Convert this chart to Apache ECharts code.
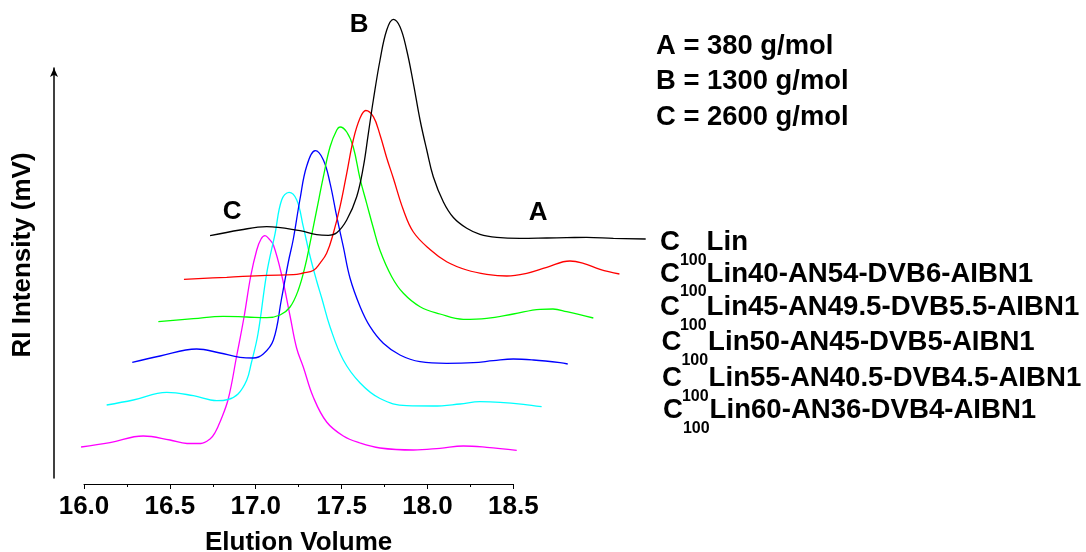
<!DOCTYPE html>
<html>
<head>
<meta charset="utf-8">
<script src="https://cdn.jsdelivr.net/npm/echarts@6/dist/echarts.min.js"></script>
<style>
  html, body { margin: 0; padding: 0; background: #fff; }
  #chart { width: 1086px; height: 552px; }
</style>
</head>
<body>
<div id="chart"></div>
<script>
// GPC traces (RI detector), drawn as an offset waterfall: each trace is
// listed at the elution volume / intensity where it is plotted.
const sampleNames = [
  'C100Lin',
  'C100Lin40-AN54-DVB6-AIBN1',
  'C100Lin45-AN49.5-DVB5.5-AIBN1',
  'C100Lin50-AN45-DVB5-AIBN1',
  'C100Lin55-AN40.5-DVB4.5-AIBN1',
  'C100Lin60-AN36-DVB4-AIBN1'
];
const molarMassNotes = ['A = 380 g/mol', 'B = 1300 g/mol', 'C = 2600 g/mol'];
const peakLetters = ['A', 'B', 'C'];

const volLin = [16.734, 16.909, 17.064, 17.258, 17.355, 17.423, 17.472, 17.530, 17.588, 17.627, 17.656, 17.685, 17.724, 17.763, 17.801, 17.840, 17.879, 17.918, 17.957, 17.996, 18.034, 18.093, 18.151, 18.229, 18.306, 18.404, 18.539, 18.695, 18.811, 18.927, 19.083, 19.271];
const riLin  = [248.3, 254.0, 257.3, 253.3, 249.3, 248.7, 251.3, 264.0, 287.3, 317.3, 350.7, 384.0, 424.0, 454.0, 464.7, 457.3, 434.0, 400.7, 364.0, 334.0, 307.3, 282.0, 266.5, 255.7, 249.7, 246.7, 245.7, 246.0, 246.3, 246.7, 245.7, 245.0];

const volLin40 = [16.582, 16.831, 17.064, 17.219, 17.277, 17.335, 17.374, 17.413, 17.452, 17.491, 17.530, 17.568, 17.607, 17.641, 17.685, 17.724, 17.763, 17.801, 17.860, 17.918, 18.015, 18.112, 18.229, 18.345, 18.462, 18.578, 18.695, 18.830, 18.908, 19.005, 19.118];
const riLin40  = [204.7, 206.7, 208.7, 209.3, 211.0, 213.5, 220.7, 230.7, 250.7, 277.3, 310.7, 344.0, 365.7, 373.5, 367.3, 349.0, 326.0, 306.0, 274.0, 252.0, 234.5, 222.3, 214.0, 209.7, 208.0, 210.7, 216.7, 223.0, 220.7, 214.7, 210.0];

const volLin45 = [16.433, 16.637, 16.811, 16.948, 17.064, 17.142, 17.200, 17.248, 17.287, 17.316, 17.355, 17.394, 17.433, 17.472, 17.491, 17.530, 17.568, 17.607, 17.646, 17.685, 17.724, 17.792, 17.860, 17.957, 18.073, 18.209, 18.345, 18.500, 18.656, 18.731, 18.811, 18.966];
const riLin45  = [162.3, 165.3, 167.7, 167.0, 166.3, 169.0, 177.0, 194.0, 217.3, 240.7, 274.0, 307.3, 337.3, 354.0, 357.0, 352.0, 337.0, 305.7, 280.7, 256.0, 233.5, 207.3, 190.7, 177.3, 170.0, 164.7, 165.7, 170.0, 174.7, 175.0, 172.3, 166.0];

const volLin50 = [16.281, 16.443, 16.656, 16.792, 16.909, 16.986, 17.044, 17.103, 17.150, 17.190, 17.219, 17.258, 17.297, 17.347, 17.394, 17.433, 17.472, 17.510, 17.549, 17.608, 17.666, 17.743, 17.840, 17.957, 18.112, 18.267, 18.384, 18.500, 18.617, 18.772, 18.817];
const riLin50  = [121.7, 128.0, 135.0, 131.0, 126.7, 126.0, 130.0, 144.0, 185.0, 222.0, 245.0, 285.0, 318.0, 333.3, 324.0, 300.7, 267.3, 237.3, 206.0, 177.3, 157.3, 140.7, 129.0, 122.3, 120.7, 121.3, 123.3, 125.0, 124.0, 121.3, 120.0];

const volLin55 = [16.132, 16.287, 16.482, 16.637, 16.773, 16.839, 16.897, 16.948, 16.973, 17.013, 17.064, 17.113, 17.151, 17.194, 17.239, 17.277, 17.316, 17.355, 17.386, 17.433, 17.510, 17.608, 17.724, 17.879, 18.034, 18.190, 18.306, 18.423, 18.559, 18.665];
const riLin55  = [79.0, 84.0, 91.7, 88.3, 83.3, 84.5, 90.0, 104.0, 120.0, 150.0, 210.7, 250.7, 284.0, 291.7, 284.0, 257.3, 228.0, 203.0, 185.0, 157.0, 124.0, 101.0, 85.5, 78.3, 78.0, 80.0, 82.3, 81.7, 79.7, 77.3];

const volLin60 = [15.983, 16.151, 16.345, 16.501, 16.600, 16.680, 16.734, 16.765, 16.792, 16.840, 16.889, 16.932, 16.971, 17.006, 17.031, 17.054, 17.078, 17.103, 17.151, 17.200, 17.238, 17.277, 17.335, 17.413, 17.510, 17.607, 17.724, 17.918, 18.073, 18.209, 18.345, 18.520];
const riLin60  = [37.0, 41.3, 48.0, 44.0, 40.5, 40.5, 45.0, 52.0, 62.0, 85.0, 128.0, 167.0, 208.0, 234.0, 245.0, 248.3, 245.0, 239.0, 209.0, 168.0, 136.0, 117.0, 87.0, 62.0, 48.0, 41.0, 36.0, 34.0, 35.7, 38.0, 36.7, 33.7];

const volumes = [volLin, volLin40, volLin45, volLin50, volLin55, volLin60];
const intensities = [riLin, riLin40, riLin45, riLin50, riLin55, riLin60];

// ---- presentation ----
const FONT = "'Liberation Sans', Arial, sans-serif";
const traceColors = ['#000000', '#ff0000', '#00ff00', '#0000ff', '#00ffff', '#ff00ff'];
const boldText = { fontFamily: FONT, fontWeight: 'bold', color: '#000' };

// Shared scale: the visible axis spans 16.0–18.5, while the traces run
// past both ends, so they live on a wider grid with the same px/mL.
const AXIS_MIN = 16, AXIS_MAX = 18.5, AXIS_LEFT = 84, AXIS_WIDTH = 429.3;
const PX_PER_ML = AXIS_WIDTH / (AXIS_MAX - AXIS_MIN);
const TRACE_MIN = 15.9, TRACE_MAX = 19.4;
const PLOT_TOP = 68, PLOT_HEIGHT = 416;

const series = sampleNames.map((name, i) => ({
  name: name,
  type: 'line',
  xAxisIndex: 2,
  yAxisIndex: 2,
  data: volumes[i].map((v, k) => [v, intensities[i][k]]),
  showSymbol: false,
  smooth: 0.4,
  clip: false,
  silent: true,
  lineStyle: { color: traceColors[i], width: 1.3 },
  z: 10 - i
}));

// Sample captions beside the trace ends (C with subscript 100)
const captionY = [242.5, 274, 307.5, 342.5, 378.5, 410.5];
const captionX = [660, 660, 660, 661.5, 662, 663];
const captionRich = {
  m: { fontFamily: FONT, fontWeight: 'bold', fontSize: 27.6, color: '#000', lineHeight: 52 },
  s: { fontFamily: FONT, fontWeight: 'bold', fontSize: 16, color: '#000', lineHeight: 17, verticalAlign: 'bottom' }
};
const captions = sampleNames.map((name, i) => ({
  type: 'text',
  x: captionX[i],
  y: captionY[i],
  silent: true,
  style: {
    text: '{m|C}{s|100}{m|' + name.slice(4) + '}',
    rich: captionRich,
    verticalAlign: 'middle',
    align: 'left'
  }
}));

const notes = molarMassNotes.map((t, i) => ({
  type: 'text',
  x: 656,
  y: 46 + i * 35.8,
  silent: true,
  style: {
    text: t, fontSize: 27.4, fontWeight: 'bold', fontFamily: FONT,
    fill: '#000', verticalAlign: 'middle', align: 'left'
  }
}));

const chart = echarts.init(document.getElementById('chart'), null, { renderer: 'canvas' });
chart.setOption({
  animation: false,
  backgroundColor: '#fff',
  grid: [
    { left: AXIS_LEFT, top: PLOT_TOP, width: AXIS_WIDTH, height: PLOT_HEIGHT, outerBoundsMode: 'none', containLabel: false },
    { left: 54, top: PLOT_TOP, width: 1, height: PLOT_HEIGHT - 6, outerBoundsMode: 'none', containLabel: false },
    {
      left: AXIS_LEFT - (AXIS_MIN - TRACE_MIN) * PX_PER_ML, top: PLOT_TOP,
      width: (TRACE_MAX - TRACE_MIN) * PX_PER_ML, height: PLOT_HEIGHT,
      outerBoundsMode: 'none', containLabel: false
    }
  ],
  xAxis: [
    {
      gridIndex: 0, type: 'value', min: AXIS_MIN, max: AXIS_MAX, interval: 0.5,
      axisLine: { show: true, lineStyle: { color: '#000', width: 1 } },
      axisTick: { show: true, length: 5, lineStyle: { color: '#000', width: 1 } },
      minorTick: { show: true, splitNumber: 2, length: 3, lineStyle: { color: '#000', width: 1 } },
      splitLine: { show: false },
      axisLabel: Object.assign({ fontSize: 26, margin: 10, formatter: v => v.toFixed(1) }, boldText),
      name: 'Elution Volume', nameLocation: 'middle', nameGap: 46,
      nameTextStyle: Object.assign({ fontSize: 26 }, boldText)
    },
    { gridIndex: 1, type: 'value', show: false },
    { gridIndex: 2, type: 'value', min: TRACE_MIN, max: TRACE_MAX, show: false }
  ],
  yAxis: [
    { gridIndex: 0, type: 'value', min: 0, max: PLOT_HEIGHT, show: false },
    {
      gridIndex: 1, type: 'value', min: 0, max: 1,
      axisLine: { show: true, symbol: ['none', 'arrow'], symbolSize: [6, 9], lineStyle: { color: '#000', width: 1.5 } },
      axisTick: { show: false }, axisLabel: { show: false }, splitLine: { show: false },
      name: 'RI Intensity (mV)', nameLocation: 'middle', nameGap: 18,
      nameTextStyle: Object.assign({ fontSize: 26, padding: [0, 0, 0, 36] }, boldText)
    },
    { gridIndex: 2, type: 'value', min: 0, max: PLOT_HEIGHT, show: false }
  ],
  series: series,
  graphic: notes.concat(captions)
});

// Peak letters anchored in data units on the top trace
const letterAnchors = [[18.644, 271], [17.602, 459], [16.862, 272]];
const letters = peakLetters.map((t, i) => {
  const p = chart.convertToPixel({ gridIndex: 2 }, letterAnchors[i]);
  return {
    type: 'text', x: p[0], y: p[1], silent: true,
    style: { text: t, fontSize: 26, fontWeight: 'bold', fontFamily: FONT, fill: '#000', align: 'center', verticalAlign: 'middle' }
  };
});
chart.setOption({ graphic: notes.concat(captions, letters) });
</script>
</body>
</html>
